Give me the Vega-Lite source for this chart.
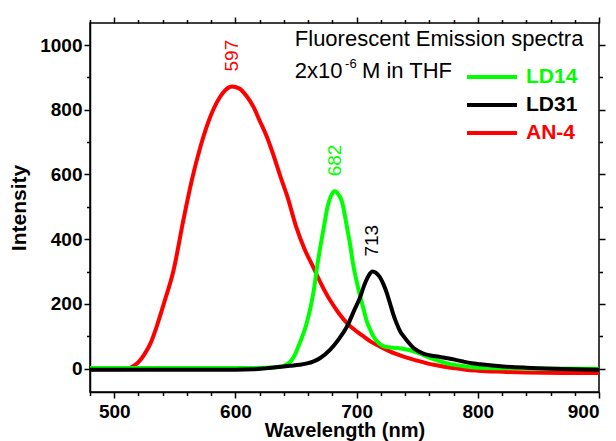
{
  "$schema": "https://vega.github.io/schema/vega-lite/v6.json",
  "width": 509,
  "height": 369,
  "autosize": "none",
  "padding": {"left": 90, "top": 23, "right": 17, "bottom": 49},
  "background": "white",
  "config": {
    "font": "Liberation Sans",
    "view": {"stroke": "black", "strokeWidth": 1.5},
    "axis": {
      "grid": false,
      "domainColor": "black",
      "domainWidth": 1.5,
      "tickColor": "#000000",
      "tickWidth": 1.5,
      "labelFont": "Liberation Sans",
      "labelFontSize": 19,
      "labelFontWeight": "bold",
      "labelColor": "black",
      "titleFont": "Liberation Sans",
      "titleFontSize": 20,
      "titleFontWeight": "bold",
      "titleColor": "black"
    }
  },
  "datasets": {
    "spectra": [
      {"sample": "AN-4", "wavelength": 480, "intensity": -2},
      {"sample": "AN-4", "wavelength": 500, "intensity": -2},
      {"sample": "AN-4", "wavelength": 508, "intensity": -1},
      {"sample": "AN-4", "wavelength": 514, "intensity": 4},
      {"sample": "AN-4", "wavelength": 520, "intensity": 20},
      {"sample": "AN-4", "wavelength": 525, "intensity": 45},
      {"sample": "AN-4", "wavelength": 530, "intensity": 79},
      {"sample": "AN-4", "wavelength": 535, "intensity": 130},
      {"sample": "AN-4", "wavelength": 541, "intensity": 202},
      {"sample": "AN-4", "wavelength": 549, "intensity": 305},
      {"sample": "AN-4", "wavelength": 557, "intensity": 458},
      {"sample": "AN-4", "wavelength": 564, "intensity": 582},
      {"sample": "AN-4", "wavelength": 571, "intensity": 684},
      {"sample": "AN-4", "wavelength": 579, "intensity": 776},
      {"sample": "AN-4", "wavelength": 587, "intensity": 838},
      {"sample": "AN-4", "wavelength": 592, "intensity": 862},
      {"sample": "AN-4", "wavelength": 597, "intensity": 872},
      {"sample": "AN-4", "wavelength": 603, "intensity": 866},
      {"sample": "AN-4", "wavelength": 609, "intensity": 843},
      {"sample": "AN-4", "wavelength": 615, "intensity": 808},
      {"sample": "AN-4", "wavelength": 620, "intensity": 766},
      {"sample": "AN-4", "wavelength": 626, "intensity": 716},
      {"sample": "AN-4", "wavelength": 631, "intensity": 664},
      {"sample": "AN-4", "wavelength": 637, "intensity": 595},
      {"sample": "AN-4", "wavelength": 643, "intensity": 530},
      {"sample": "AN-4", "wavelength": 650, "intensity": 440},
      {"sample": "AN-4", "wavelength": 657, "intensity": 370},
      {"sample": "AN-4", "wavelength": 664, "intensity": 315},
      {"sample": "AN-4", "wavelength": 671, "intensity": 260},
      {"sample": "AN-4", "wavelength": 678, "intensity": 212},
      {"sample": "AN-4", "wavelength": 685, "intensity": 173},
      {"sample": "AN-4", "wavelength": 692, "intensity": 141},
      {"sample": "AN-4", "wavelength": 699, "intensity": 118},
      {"sample": "AN-4", "wavelength": 706, "intensity": 99},
      {"sample": "AN-4", "wavelength": 712, "intensity": 83},
      {"sample": "AN-4", "wavelength": 719, "intensity": 69},
      {"sample": "AN-4", "wavelength": 726, "intensity": 56},
      {"sample": "AN-4", "wavelength": 733, "intensity": 45},
      {"sample": "AN-4", "wavelength": 740, "intensity": 36},
      {"sample": "AN-4", "wavelength": 747, "intensity": 28},
      {"sample": "AN-4", "wavelength": 754, "intensity": 21},
      {"sample": "AN-4", "wavelength": 760, "intensity": 15},
      {"sample": "AN-4", "wavelength": 767, "intensity": 10},
      {"sample": "AN-4", "wavelength": 774, "intensity": 5},
      {"sample": "AN-4", "wavelength": 782, "intensity": 1},
      {"sample": "AN-4", "wavelength": 790, "intensity": -3},
      {"sample": "AN-4", "wavelength": 800, "intensity": -6},
      {"sample": "AN-4", "wavelength": 815, "intensity": -9},
      {"sample": "AN-4", "wavelength": 840, "intensity": -12},
      {"sample": "AN-4", "wavelength": 870, "intensity": -13},
      {"sample": "AN-4", "wavelength": 900, "intensity": -13},

      {"sample": "LD14", "wavelength": 480, "intensity": 2},
      {"sample": "LD14", "wavelength": 550, "intensity": 2},
      {"sample": "LD14", "wavelength": 600, "intensity": 2},
      {"sample": "LD14", "wavelength": 625, "intensity": 3},
      {"sample": "LD14", "wavelength": 635, "intensity": 5},
      {"sample": "LD14", "wavelength": 642, "intensity": 12},
      {"sample": "LD14", "wavelength": 648, "intensity": 35},
      {"sample": "LD14", "wavelength": 653, "intensity": 79},
      {"sample": "LD14", "wavelength": 658, "intensity": 130},
      {"sample": "LD14", "wavelength": 662, "intensity": 190},
      {"sample": "LD14", "wavelength": 665, "intensity": 250},
      {"sample": "LD14", "wavelength": 667, "intensity": 305},
      {"sample": "LD14", "wavelength": 670, "intensity": 375},
      {"sample": "LD14", "wavelength": 673, "intensity": 438},
      {"sample": "LD14", "wavelength": 676, "intensity": 500},
      {"sample": "LD14", "wavelength": 679, "intensity": 535},
      {"sample": "LD14", "wavelength": 682, "intensity": 548},
      {"sample": "LD14", "wavelength": 685, "intensity": 538},
      {"sample": "LD14", "wavelength": 688, "intensity": 515},
      {"sample": "LD14", "wavelength": 690, "intensity": 480},
      {"sample": "LD14", "wavelength": 692, "intensity": 438},
      {"sample": "LD14", "wavelength": 695, "intensity": 375},
      {"sample": "LD14", "wavelength": 697, "intensity": 325},
      {"sample": "LD14", "wavelength": 700, "intensity": 270},
      {"sample": "LD14", "wavelength": 703, "intensity": 222},
      {"sample": "LD14", "wavelength": 706, "intensity": 180},
      {"sample": "LD14", "wavelength": 708, "intensity": 151},
      {"sample": "LD14", "wavelength": 711, "intensity": 122},
      {"sample": "LD14", "wavelength": 714, "intensity": 99},
      {"sample": "LD14", "wavelength": 718, "intensity": 80},
      {"sample": "LD14", "wavelength": 722, "intensity": 70},
      {"sample": "LD14", "wavelength": 727, "intensity": 66},
      {"sample": "LD14", "wavelength": 733, "intensity": 64},
      {"sample": "LD14", "wavelength": 740, "intensity": 60},
      {"sample": "LD14", "wavelength": 747, "intensity": 54},
      {"sample": "LD14", "wavelength": 754, "intensity": 44},
      {"sample": "LD14", "wavelength": 761, "intensity": 33},
      {"sample": "LD14", "wavelength": 767, "intensity": 25},
      {"sample": "LD14", "wavelength": 774, "intensity": 17},
      {"sample": "LD14", "wavelength": 782, "intensity": 11},
      {"sample": "LD14", "wavelength": 790, "intensity": 7},
      {"sample": "LD14", "wavelength": 802, "intensity": 3},
      {"sample": "LD14", "wavelength": 830, "intensity": 1},
      {"sample": "LD14", "wavelength": 900, "intensity": 0},

      {"sample": "LD31", "wavelength": 480, "intensity": -3},
      {"sample": "LD31", "wavelength": 600, "intensity": -3},
      {"sample": "LD31", "wavelength": 615, "intensity": -2},
      {"sample": "LD31", "wavelength": 625, "intensity": 1},
      {"sample": "LD31", "wavelength": 635, "intensity": 5},
      {"sample": "LD31", "wavelength": 645, "intensity": 9},
      {"sample": "LD31", "wavelength": 653, "intensity": 12},
      {"sample": "LD31", "wavelength": 660, "intensity": 17},
      {"sample": "LD31", "wavelength": 664, "intensity": 22},
      {"sample": "LD31", "wavelength": 670, "intensity": 33},
      {"sample": "LD31", "wavelength": 678, "intensity": 58},
      {"sample": "LD31", "wavelength": 685, "intensity": 90},
      {"sample": "LD31", "wavelength": 692, "intensity": 130},
      {"sample": "LD31", "wavelength": 698, "intensity": 180},
      {"sample": "LD31", "wavelength": 703, "intensity": 222},
      {"sample": "LD31", "wavelength": 706, "intensity": 255},
      {"sample": "LD31", "wavelength": 710, "intensity": 288},
      {"sample": "LD31", "wavelength": 713, "intensity": 300},
      {"sample": "LD31", "wavelength": 716, "intensity": 296},
      {"sample": "LD31", "wavelength": 719, "intensity": 284},
      {"sample": "LD31", "wavelength": 722, "intensity": 262},
      {"sample": "LD31", "wavelength": 725, "intensity": 233},
      {"sample": "LD31", "wavelength": 728, "intensity": 196},
      {"sample": "LD31", "wavelength": 730, "intensity": 171},
      {"sample": "LD31", "wavelength": 733, "intensity": 140},
      {"sample": "LD31", "wavelength": 736, "intensity": 115},
      {"sample": "LD31", "wavelength": 739, "intensity": 99},
      {"sample": "LD31", "wavelength": 743, "intensity": 80},
      {"sample": "LD31", "wavelength": 747, "intensity": 64},
      {"sample": "LD31", "wavelength": 752, "intensity": 52},
      {"sample": "LD31", "wavelength": 757, "intensity": 44},
      {"sample": "LD31", "wavelength": 762, "intensity": 40},
      {"sample": "LD31", "wavelength": 768, "intensity": 37},
      {"sample": "LD31", "wavelength": 774, "intensity": 33},
      {"sample": "LD31", "wavelength": 781, "intensity": 28},
      {"sample": "LD31", "wavelength": 788, "intensity": 22},
      {"sample": "LD31", "wavelength": 795, "intensity": 17},
      {"sample": "LD31", "wavelength": 802, "intensity": 14},
      {"sample": "LD31", "wavelength": 812, "intensity": 10},
      {"sample": "LD31", "wavelength": 821, "intensity": 7},
      {"sample": "LD31", "wavelength": 840, "intensity": 3},
      {"sample": "LD31", "wavelength": 862, "intensity": 0},
      {"sample": "LD31", "wavelength": 900, "intensity": -3}
    ],
    "peaks": [
      {"sample": "AN-4", "wavelength": 597, "intensity": 872, "label": "597"},
      {"sample": "LD14", "wavelength": 682, "intensity": 548, "label": "682"},
      {"sample": "LD31", "wavelength": 713, "intensity": 300, "label": "713"}
    ]
  },
  "layer": [
    {
      "data": {"name": "spectra"},
      "mark": {"type": "line", "strokeWidth": 4, "interpolate": "monotone"},
      "encoding": {
        "x": {
          "field": "wavelength", "type": "quantitative",
          "scale": {"domain": [480, 900], "nice": false, "zero": false},
          "axis": {"orient": "bottom", "values": [500, 600, 700, 800, 900], "ticks": true, "tickSize": 6, "labelPadding": 4, "title": "Wavelength (nm)", "titlePadding": -1}
        },
        "y": {
          "field": "intensity", "type": "quantitative",
          "scale": {"domain": [-72, 1068], "nice": false, "zero": false},
          "axis": {"orient": "left", "values": [0, 200, 400, 600, 800, 1000], "format": "d", "ticks": true, "tickSize": 6, "labelPadding": 2, "title": "Intensity", "titleFontSize": 21, "titlePadding": 10}
        },
        "color": {
          "field": "sample", "type": "nominal",
          "scale": {"domain": ["LD14", "LD31", "AN-4"], "range": ["#00ff00", "#000000", "#ff0000"]},
          "legend": {
            "orient": "none", "legendX": 390, "legendY": 42, "title": null,
            "symbolType": "M-2.5,0H2.5", "symbolStrokeWidth": 4, "symbolSize": 400,
            "labelFont": "Liberation Sans", "labelFontSize": 21, "labelFontWeight": "bold",
            "labelOffset": 22, "rowPadding": 6,
            "encode": {"labels": {"update": {"fill": {"scale": "color", "field": "value"}}}}
          }
        }
      }
    },
    {
      "data": {"name": "peaks"},
      "mark": {"type": "text", "angle": 270, "align": "left", "baseline": "middle", "dx": 15, "fontSize": 19, "font": "Liberation Sans"},
      "encoding": {
        "x": {
          "field": "wavelength", "type": "quantitative",
          "scale": {"domain": [480, 900], "nice": false, "zero": false},
          "axis": {"orient": "bottom", "values": [480, 520, 540, 560, 580, 620, 640, 660, 680, 720, 740, 760, 780, 820, 840, 860, 880], "ticks": true, "tickSize": 3.5, "labels": false, "domain": false, "title": null}
        },
        "y": {
          "field": "intensity", "type": "quantitative",
          "scale": {"domain": [-72, 1068], "nice": false, "zero": false},
          "axis": {"orient": "left", "values": [100, 300, 500, 700, 900], "ticks": true, "tickSize": 3.5, "labels": false, "domain": false, "title": null}
        },
        "text": {"field": "label"},
        "color": {"field": "sample", "type": "nominal", "legend": null}
      }
    },
    {
      "data": {"values": [{}]},
      "mark": {"type": "text", "text": "Fluorescent Emission spectra", "align": "left", "baseline": "alphabetic", "fontSize": 22, "font": "Liberation Sans", "color": "black"},
      "encoding": {
        "x": {
          "datum": 649, "type": "quantitative",
          "scale": {"domain": [480, 900], "nice": false, "zero": false},
          "axis": {"orient": "top", "values": [500, 600, 700, 800, 900], "ticks": true, "tickSize": 6, "labels": false, "domain": false, "title": null}
        },
        "y": {
          "datum": 997, "type": "quantitative",
          "scale": {"domain": [-72, 1068], "nice": false, "zero": false},
          "axis": {"orient": "right", "values": [0, 200, 400, 600, 800, 1000], "ticks": true, "tickSize": 6, "labels": false, "domain": false, "title": null}
        }
      }
    },
    {
      "data": {"values": [{}]},
      "mark": {"type": "text", "text": "2x10", "align": "left", "baseline": "alphabetic", "fontSize": 22, "font": "Liberation Sans", "color": "black"},
      "encoding": {
        "x": {
          "datum": 649, "type": "quantitative",
          "scale": {"domain": [480, 900], "nice": false, "zero": false},
          "axis": {"orient": "top", "values": [480, 520, 540, 560, 580, 620, 640, 660, 680, 720, 740, 760, 780, 820, 840, 860, 880], "ticks": true, "tickSize": 3.5, "labels": false, "domain": false, "title": null}
        },
        "y": {
          "datum": 898, "type": "quantitative",
          "scale": {"domain": [-72, 1068], "nice": false, "zero": false},
          "axis": {"orient": "right", "values": [100, 300, 500, 700, 900], "ticks": true, "tickSize": 3.5, "labels": false, "domain": false, "title": null}
        }
      }
    },
    {
      "data": {"values": [{}]},
      "mark": {"type": "text", "text": "-6", "align": "left", "baseline": "alphabetic", "fontSize": 13, "font": "Liberation Sans", "color": "black"},
      "encoding": {
        "x": {"datum": 690.5, "type": "quantitative", "scale": {"domain": [480, 900], "nice": false, "zero": false}, "axis": null},
        "y": {"datum": 929, "type": "quantitative", "scale": {"domain": [-72, 1068], "nice": false, "zero": false}, "axis": null}
      }
    },
    {
      "data": {"values": [{}]},
      "mark": {"type": "text", "text": "M in THF", "align": "left", "baseline": "alphabetic", "fontSize": 22, "font": "Liberation Sans", "color": "black"},
      "encoding": {
        "x": {"datum": 704.4, "type": "quantitative", "scale": {"domain": [480, 900], "nice": false, "zero": false}, "axis": null},
        "y": {"datum": 898, "type": "quantitative", "scale": {"domain": [-72, 1068], "nice": false, "zero": false}, "axis": null}
      }
    }
  ],
  "resolve": {"axis": {"x": "independent", "y": "independent"}}
}
